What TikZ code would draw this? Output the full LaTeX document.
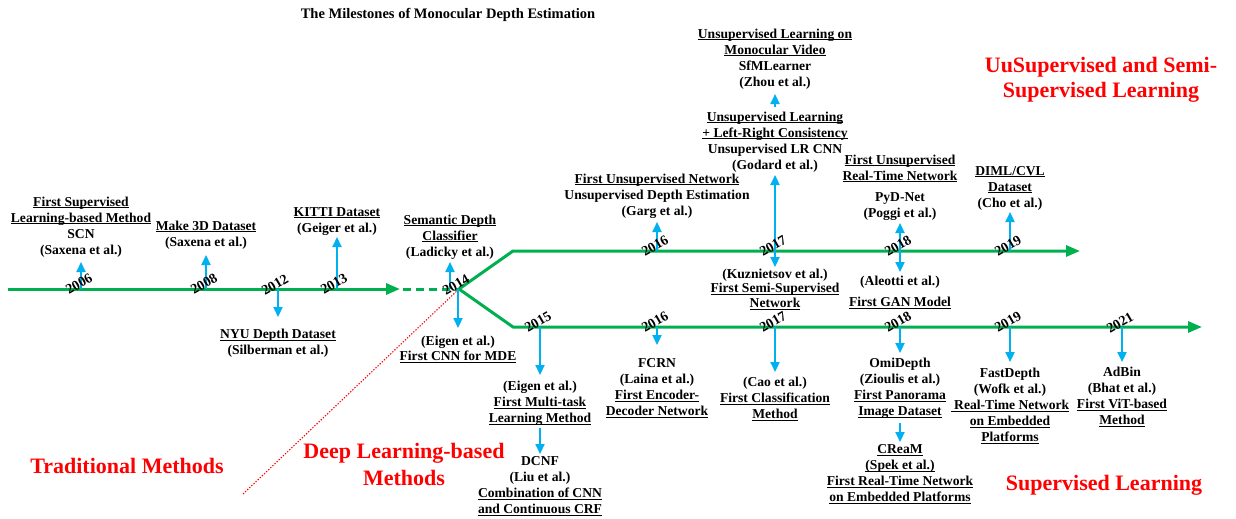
\documentclass[tikz,border=0pt]{standalone}
\usepackage{fontspec}
\setmainfont{Liberation Serif}
\usetikzlibrary{arrows.meta}
\definecolor{tgreen}{RGB}{0,176,80}
\definecolor{tcyan}{RGB}{0,176,240}
\newcommand{\ux}[1]{\underline{\smash{#1}}}
\begin{document}
\begin{tikzpicture}[x=1pt,y=-1pt,
  ev/.style={align=center,inner sep=0pt,font=\bfseries\fontsize{13.6}{16}\selectfont},
  yr/.style={rotate=30,inner sep=0pt,font=\bfseries\fontsize{14}{16}\selectfont},
  evarr/.style={draw=tcyan,line width=2.2pt,-{Triangle[length=10pt,width=9pt]}},
  tl/.style={draw=tgreen,line width=3pt},
  tlarr/.style={tl,-{Triangle[length=14pt,width=11pt]}},
  redlbl/.style={text=red,inner sep=0pt,font=\bfseries\fontsize{22}{27}\selectfont,align=center},
]
\useasboundingbox (0,0) rectangle (1236,519);

% ---------- coordinates ----------
\coordinate (s0) at (8,289);
\coordinate (a0) at (400,289);
\coordinate (d0) at (403,289);
\coordinate (J) at (459,289);
\coordinate (ub) at (513,251);
\coordinate (ue) at (1080,251);
\coordinate (lb) at (513,327);
\coordinate (le) at (1202,327);
\coordinate (rd) at (243,494);

\coordinate (t06) at (81,289);
\coordinate (t08) at (206,289);
\coordinate (t12) at (278,289);
\coordinate (t13) at (337,289);
\coordinate (t14u) at (450,289);
\coordinate (t14d) at (458,289);
\coordinate (u16) at (657,251);
\coordinate (u17) at (775,251);
\coordinate (u18) at (900,251);
\coordinate (u19) at (1010,251);
\coordinate (l15) at (540,327);
\coordinate (l16) at (657,327);
\coordinate (l17) at (775,327);
\coordinate (l18) at (900,327);
\coordinate (l19) at (1010,327);
\coordinate (l21) at (1122,327);

% ---------- timelines ----------
\draw[tlarr] (s0) -- (a0);
\draw[tl,dash pattern=on 8pt off 5pt] (d0) -- (J);
\draw[tlarr,line join=round] (J) -- (ub) -- (ue);
\draw[tlarr,line join=round] (J) -- (lb) -- (le);
\draw[red,line width=1.1pt,dash pattern=on 1.3pt off 1.6pt] (rd) -- (J);

% ---------- title and category labels ----------
\node[anchor=base,inner sep=0pt,font=\bfseries\fontsize{14.5}{17}\selectfont] (title) at (448,19) {The Milestones of Monocular Depth Estimation};
\node[redlbl,anchor=base] (trad) at (127,473) {Traditional Methods};
\node[redlbl,anchor=north] (dl) at (404,439) {\strut Deep Learning-based\\Methods\strut};
\node[redlbl,anchor=north,font=\bfseries\fontsize{22}{25.5}\selectfont] (uss) at (1101,54) {\strut UuSupervised and Semi-\\Supervised Learning\strut};
\node[redlbl,anchor=base] (sl) at (1104,490) {Supervised Learning};

% ---------- events: traditional line ----------
\node[ev,anchor=south] (e06) at (81,259) {\strut\ux{First Supervised}\\\ux{Learning-based Method}\\SCN\\(Saxena et al.)\strut};
\node[ev,anchor=south] (e08) at (206,251) {\strut\ux{Make 3D Dataset}\\(Saxena et al.)\strut};
\node[ev,anchor=north] (e12) at (278,327) {\strut\ux{NYU Depth Dataset}\\(Silberman et al.)\strut};
\node[ev,anchor=south] (e13) at (337,237) {\strut\ux{KITTI Dataset}\\(Geiger et al.)\strut};
\node[ev,anchor=south] (e14u) at (450,261) {\strut\ux{Semantic Depth}\\\ux{Classifier}\\(Ladicky et al.)\strut};
\node[ev,anchor=north] (e14d) at (458,334) {\strut(Eigen et al.)\\[-1pt]\ux{First CNN for MDE}\strut};

\draw[evarr,shorten >=3pt] (t06) -- (e06.south);
\draw[evarr,shorten >=4pt] (t08) -- (e08.south);
\draw[evarr,shorten >=10pt] (t12) -- (e12.north);
\draw[evarr] (t13) -- (e13.south);
\draw[evarr,shorten >=1pt] (t14u) -- (e14u.south);
\draw[evarr,shorten >=6pt] (t14d) -- (e14d.north);

% ---------- events: unsupervised line ----------
\node[ev,anchor=south] (e16u) at (657,220) {\strut\ux{First Unsupervised Network}\\Unsupervised Depth Estimation\\(Garg et al.)\strut};
\node[ev,anchor=south] (e17u) at (775,174) {\strut\ux{Unsupervised Learning}\\\ux{+ Left-Right Consistency}\\Unsupervised LR CNN\\(Godard et al.)\strut};
\node[ev,anchor=south] (e17z) at (775,91) {\strut\ux{Unsupervised Learning on}\\\ux{Monocular Video}\\SfMLearner\\(Zhou et al.)\strut};
\node[ev,anchor=north] (e17k) at (775,267) {\strut(Kuznietsov et al.)\\[-1.5pt]\ux{First Semi-Supervised}\\[-1.5pt]\ux{Network}\strut};
\node[ev,anchor=south] (e18u) at (900,222) {\strut\ux{First Unsupervised}\\\ux{Real-Time Network}\\[5pt]PyD-Net\\(Poggi et al.)\strut};
\node[ev,anchor=north] (e18a) at (900,274) {\strut(Aleotti et al.)\\[5pt]\ux{First GAN Model}\strut};
\node[ev,anchor=south] (e19u) at (1010,212) {\strut\ux{DIML/CVL}\\\ux{Dataset}\\(Cho et al.)\strut};

\draw[evarr,shorten >=2pt] (u16) -- (e16u.south);
\draw[evarr,shorten >=1pt] (u17) -- (e17u.south);
\draw[evarr,shorten <=3pt,shorten >=3pt] (e17u.north) -- (e17z.south);
\draw[evarr] (u17) -- (e17k.north);
\draw[evarr,shorten >=1pt] (u18) -- (e18u.south);
\draw[evarr,shorten >=2pt] (u18) -- (e18a.north);
\draw[evarr] (u19) -- (e19u.south);

% ---------- events: supervised line ----------
\node[ev,anchor=north] (e15) at (540,379) {\strut(Eigen et al.)\\\ux{First Multi-task}\\\ux{Learning Method}\strut};
\node[ev,anchor=north] (e15b) at (540,454) {\strut DCNF\\(Liu et al.)\\\ux{Combination of CNN}\\\ux{and Continuous CRF}\strut};
\node[ev,anchor=north] (e16l) at (657,356) {\strut FCRN\\(Laina et al.)\\\ux{First Encoder-}\\\ux{Decoder Network}\strut};
\node[ev,anchor=north] (e17l) at (775,375) {\strut(Cao et al.)\\\ux{First Classification}\\\ux{Method}\strut};
\node[ev,anchor=north] (e18l) at (900,356) {\strut OmiDepth\\(Zioulis et al.)\\\ux{First Panorama}\\\ux{Image Dataset}\strut};
\node[ev,anchor=north] (e18c) at (900,442) {\strut\ux{CReaM}\\\ux{(Spek et al.)}\\\ux{First Real-Time Network}\\\ux{on Embedded Platforms}\strut};
\node[ev,anchor=north] (e19l) at (1010,366) {\strut FastDepth\\(Wofk et al.)\\\ux{\ Real-Time Network}\\\ux{on Embedded}\\\ux{Platforms}\strut};
\node[ev,anchor=north] (e21) at (1122,365) {\strut AdBin\\(Bhat et al.)\\\ux{First ViT-based}\\\ux{Method}\strut};

\draw[evarr,shorten >=4pt] (l15) -- (e15.north);
\draw[evarr,shorten <=1pt] (e15.south) -- (e15b.north);
\draw[evarr,shorten >=11pt] (l16) -- (e16l.north);
\draw[evarr,shorten >=3pt] (l17) -- (e17l.north);
\draw[evarr,shorten >=3pt] (l18) -- (e18l.north);
\draw[evarr,shorten <=3pt] (e18l.south) -- (e18c.north);
\draw[evarr,shorten >=4pt] (l19) -- (e19l.north);
\draw[evarr,shorten >=3pt] (l21) -- (e21.north);

% ---------- year labels ----------
\node[yr] (y06) at (79,284) {2006};
\node[yr] (y08) at (204,284) {2008};
\node[yr] (y12) at (275,285) {2012};
\node[yr] (y13) at (334,284) {2013};
\node[yr] (y14) at (456,285) {2014};
\node[yr] (yu16) at (655,246) {2016};
\node[yr] (yu17) at (773,246) {2017};
\node[yr] (yu18) at (898,246) {2018};
\node[yr] (yu19) at (1008,246) {2019};
\node[yr] (yl15) at (538,322) {2015};
\node[yr] (yl16) at (655,322) {2016};
\node[yr] (yl17) at (773,322) {2017};
\node[yr] (yl18) at (898,322) {2018};
\node[yr] (yl19) at (1008,322) {2019};
\node[yr] (yl21) at (1120,323) {2021};
\end{tikzpicture}
\end{document}
